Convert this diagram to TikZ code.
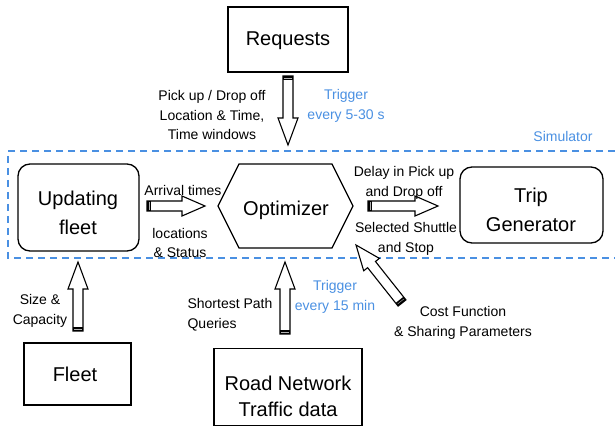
\documentclass[tikz,border=0pt]{standalone}
\usepackage{fontspec}
\setmainfont{Liberation Sans}
\usetikzlibrary{calc}
\definecolor{simblue}{RGB}{74,144,226}
\tikzset{
  x=1pt, y=1pt,
  bigtext/.style={font=\fontsize{20}{29}\selectfont, align=center, inner sep=0},
  smalltext/.style={font=\fontsize{14}{19.5}\selectfont, align=center, inner sep=0},
  bluetext/.style={smalltext, text=simblue},
  plainbox/.style={draw, line width=1.6pt, inner sep=0},
  roundbox/.style={draw, line width=1.3pt, rounded corners=12pt, inner sep=0},
  arrowline/.style={draw, line width=1.1pt, fill=white, line join=miter},
  simframe/.style={draw=simblue, line width=1.3pt, dash pattern=on 7pt off 5pt},
}
% block arrow from tail #1 to tip #2, head length #3 (in pt)
\newcommand{\blockarr}[3]{%
  \path[arrowline] ($(#1)!5pt!-90:(#2)$)
    -- ($(#2)!#3pt!(#1)!5pt!90:(#1)$) -- ($(#2)!#3pt!(#1)!10pt!90:(#1)$) -- (#2)
    -- ($(#2)!#3pt!(#1)!10pt!-90:(#1)$) -- ($(#2)!#3pt!(#1)!5pt!-90:(#1)$)
    -- ($(#1)!5pt!90:(#2)$) -- cycle;
  \fill[black] ($(#1)!5pt!-90:(#2)$) -- ($(#1)!5pt!90:(#2)$)
    -- ($(#1)!4pt!(#2)!5pt!90:(#2)$) -- ($(#1)!4pt!(#2)!5pt!-90:(#2)$) -- cycle;
  \draw[gray!60, line width=0.4pt] ($(#1)!2pt!(#2)!4pt!90:(#2)$) -- ($(#1)!2pt!(#2)!4pt!-90:(#2)$);
}
\begin{document}
\begin{tikzpicture}
\useasboundingbox (0,0) rectangle (615,-427);

% simulator frame (open on the right)
\path[simframe] (615,-151) -- (8,-151) -- (8,-258) -- (615,-258);
\node[bluetext] (simlabel) at (563,-136) {Simulator};

% boxes
\node[plainbox, minimum width=120, minimum height=65] (req) at (288,-39.5) {};
\node[bigtext] (reqtext) at (288,-41) {Requests};

\node[roundbox, minimum width=121, minimum height=87] (upd) at (78.5,-207.5) {};
\node[bigtext] (updtext) at (78,-213) {Updating\\fleet};

\node[roundbox, minimum width=143, minimum height=76] (trip) at (531.5,-205) {};
\node[bigtext] (triptext) at (531,-210) {Trip\\Generator};

\node[plainbox, minimum width=107, minimum height=62] (fleet) at (77.5,-374) {};
\node[bigtext] (fleettext) at (75,-374) {Fleet};

\node[plainbox, minimum width=148, minimum height=77] (road) at (288,-387) {};
\node[bigtext, font=\fontsize{20}{26}\selectfont] (roadtext) at (288,-396) {Road Network\\Traffic data};

% optimizer hexagon
\coordinate (opt) at (286,-206);
\draw[line width=1.3pt, line join=miter] ($(opt)+(-68,0)$) -- ($(opt)+(-47,42)$) -- ($(opt)+(46,42)$)
  -- ($(opt)+(67,0)$) -- ($(opt)+(46,-42)$) -- ($(opt)+(-47,-42)$) -- cycle;
\node[bigtext] (opttext) at ($(opt)+(0,-4)$) {Optimizer};

% arrow end points
\coordinate (reqT) at (288,-76);   \coordinate (reqH) at (288,-145);
\coordinate (arrT) at (147,-206);  \coordinate (arrH) at (205,-206);
\coordinate (delT) at (368,-206);  \coordinate (delH) at (438,-206);
\coordinate (fltT) at (78,-331);   \coordinate (fltH) at (78,-262);
\coordinate (rdT) at (285,-334);   \coordinate (rdH) at (285,-262);
\coordinate (costT) at (402,-303); \coordinate (costH) at (356,-245);

\blockarr{reqT}{reqH}{27}
\blockarr{arrT}{arrH}{23}
\blockarr{delT}{delH}{23}
\blockarr{fltT}{fltH}{27}
\blockarr{rdT}{rdH}{27}
\blockarr{costT}{costH}{25}

% labels
\node[smalltext] (l1) at (212,-115) {Pick up / Drop off\\Location \& Time,\\Time windows};
\node[bluetext] (l2) at (346,-106) {Trigger\\every 5-30 s};
\node[smalltext] (l3) at (183,-190) {Arrival times};
\node[smalltext] (l4) at (180,-243) {locations\\\& Status};
\node[smalltext] (l5) at (404,-183) {Delay in Pick up\\and Drop off};
\node[smalltext] (l6) at (406,-239) {Selected Shuttle\\and Stop};
\node[smalltext] (l7) at (40,-311) {Size \&\\Capacity};
\node[smalltext, align=left] (l8) at (230,-315) {Shortest Path\\Queries};
\node[bluetext] (l9) at (335,-297) {Trigger\\every 15 min};
\node[smalltext] (l10) at (463,-323) {Cost Function\\\& Sharing Parameters};
\end{tikzpicture}
\end{document}
